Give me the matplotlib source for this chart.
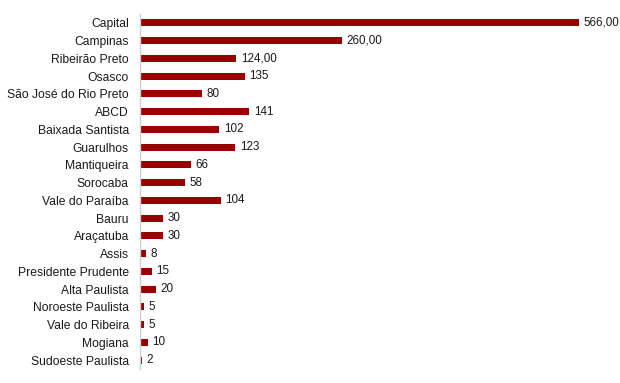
import matplotlib
matplotlib.use("Agg")
import matplotlib.pyplot as plt

# regions, top to bottom
regioes = ["Capital", "Campinas", "Ribeirão Preto", "Osasco", "São José do Rio Preto",
           "ABCD", "Baixada Santista", "Guarulhos", "Mantiqueira", "Sorocaba",
           "Vale do Paraíba", "Bauru", "Araçatuba", "Assis", "Presidente Prudente",
           "Alta Paulista", "Noroeste Paulista", "Vale do Ribeira", "Mogiana",
           "Sudoeste Paulista"]
valores = [566, 260, 124, 135, 80, 141, 102, 123, 66, 58, 104, 30, 30, 8, 15, 20, 5, 5, 10, 2]
rotulos = ["566,00", "260,00", "124,00", "135", "80", "141", "102", "123", "66", "58",
           "104", "30", "30", "8", "15", "20", "5", "5", "10", "2"]

plt.rcParams['font.family'] = ['Liberation Sans', 'DejaVu Sans']

fig = plt.figure(figsize=(6.2, 3.83), dpi=100)
ax = fig.add_axes([140/620, 14/383, 460/620, 355/383])

y = list(range(len(regioes)))
ax.barh(y, valores, height=0.4, color="#990000")
for yi, v, t in zip(y, valores, rotulos):
    ax.text(v + 6, yi, t, va="center", ha="left", fontsize=8.4, color="#1a1a1a")

ax.set_ylim(len(regioes) - 0.5, -0.5)
ax.set_xlim(0, 593)
ax.set_yticks(y)
ax.set_yticklabels(regioes, fontsize=8.7, color="#1a1a1a")
ax.set_xticks([])
ax.tick_params(axis="y", length=0, pad=8)
for s in ["top", "right", "bottom"]:
    ax.spines[s].set_visible(False)
ax.spines["left"].set_color("#d0d0d0")
ax.spines["left"].set_linewidth(1)

fig.savefig("out.png", dpi=100)
